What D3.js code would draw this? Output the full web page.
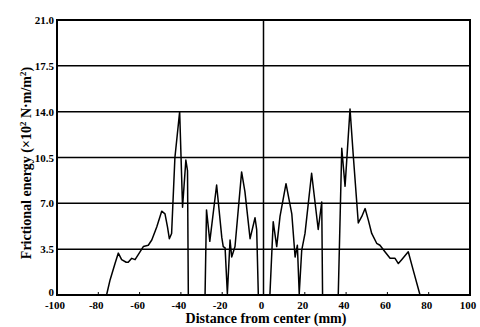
<!DOCTYPE html>
<html>
<head>
<meta charset="utf-8">
<script src="https://cdn.jsdelivr.net/npm/d3@7"></script>
<style>
  body { margin: 0; background: #fff; }
  svg { display: block; }
  text { font-family: "Liberation Serif", "DejaVu Serif", serif; font-weight: bold; fill: #000; }
</style>
</head>
<body>
<div id="chart"></div>
<script>
// distance from center (mm) and frictional energy (x10^2 N·m/m^2)
const distance = [-100, -76, -74.3, -71.9, -70.3, -68.7, -66.5, -65.5, -63.8, -62.2, -59.8, -58.2, -55.8, -54.1, -51.7, -49.3, -47.7, -46.5, -45.6, -44.5, -42.9, -40.6, -39.2, -37.6, -36.8, -36.4,
  -28.3, -27.6, -26, -22.7, -20.2, -19.5, -18.6, -17.5, -16.2, -15.4, -13.8, -10.6, -9, -6.5, -4.1, -3.3, -2.5,
  3.1, 4.7, 6.4, 8, 10.9, 13.7, 15.3, 16.4, 17.3, 18.5, 20.1, 23.3, 26.5, 28.2, 28.6,
  36.2, 37.9, 39.5, 41.9, 43.5, 45.9, 47.6, 49.2, 50.8, 52.4, 54.8, 56.4, 58.8, 61.3, 63.7, 65.3, 66.9, 70.1, 72.5, 75.8, 100];
const energy = [0, 0, 1.15, 2.4, 3.2, 2.7, 2.5, 2.5, 2.8, 2.7, 3.3, 3.7, 3.8, 4.2, 5.2, 6.4, 6.2, 5.2, 4.3, 4.7, 10.5, 14.0, 6.7, 10.3, 9.5, 0,
  0, 6.5, 4.1, 8.4, 4.4, 3.7, 3.6, 0.1, 4.2, 2.9, 3.7, 9.4, 7.9, 4.3, 5.9, 5.0, 0,
  0, 5.6, 3.7, 6.0, 8.5, 6.2, 2.9, 3.8, 0.1, 3.4, 4.7, 9.3, 5.0, 7.1, 0,
  0, 11.2, 8.3, 14.2, 10.6, 5.5, 6.0, 6.6, 5.7, 4.7, 3.95, 3.8, 3.3, 2.8, 2.8, 2.4, 2.7, 3.3, 1.9, 0, 0];

const xTicks = [-100, -80, -60, -40, -20, 0, 20, 40, 60, 80, 100];
const yTicks = [0, 3.5, 7.0, 10.5, 14.0, 17.5, 21.0];
const yTickLabels = ["0", "3.5", "7.0", "10.5", "14.0", "17.5", "21.0"];

const width = 480, height = 327;
const margin = { top: 20, right: 10, bottom: 32, left: 57 };

const svg = d3.select("#chart").append("svg")
    .attr("width", width)
    .attr("height", height);

const x = d3.scaleLinear().domain([-100, 100]).range([margin.left, width - margin.right]);
const y = d3.scaleLinear().domain([0, 21]).range([height - margin.bottom, margin.top]);

// horizontal grid lines
svg.append("g")
  .selectAll("line")
  .data(yTicks.slice(1, -1))
  .join("line")
    .attr("x1", x(-100)).attr("x2", x(100))
    .attr("y1", d => y(d)).attr("y2", d => y(d))
    .attr("stroke", "#000").attr("stroke-width", 1.5);

// center line at 0 mm
svg.append("line")
    .attr("x1", x(0)).attr("x2", x(0))
    .attr("y1", y(21)).attr("y2", y(0))
    .attr("stroke", "#000").attr("stroke-width", 1.5);

// small inward ticks on the bottom axis
svg.append("g")
  .selectAll("line")
  .data(xTicks.slice(1, -1))
  .join("line")
    .attr("x1", d => x(d)).attr("x2", d => x(d))
    .attr("y1", y(0)).attr("y2", y(0) - 3)
    .attr("stroke", "#000").attr("stroke-width", 1);

// frame
svg.append("rect")
    .attr("x", x(-100)).attr("y", y(21))
    .attr("width", x(100) - x(-100)).attr("height", y(0) - y(21))
    .attr("fill", "none").attr("stroke", "#000").attr("stroke-width", 2);

// data line
const pts = distance.map((d, i) => [d, energy[i]]);
const line = d3.line().x(d => x(d[0])).y(d => y(d[1]));
svg.append("path")
    .datum(pts)
    .attr("d", line)
    .attr("fill", "none")
    .attr("stroke", "#000")
    .attr("stroke-width", 1.5)
    .attr("stroke-linejoin", "round");

// tick labels
svg.append("g")
  .selectAll("text")
  .data(xTicks)
  .join("text")
    .attr("x", d => x(d) - 2)
    .attr("y", y(0) + 14)
    .attr("text-anchor", "middle")
    .style("font-size", "11px")
    .text(d => d);

svg.append("g")
  .selectAll("text")
  .data(yTicks)
  .join("text")
    .attr("x", margin.left - 3)
    .attr("y", d => d === 0 ? y(d) + 1 : y(d) + 4)
    .attr("text-anchor", "end")
    .style("font-size", "11px")
    .text((d, i) => yTickLabels[i]);

// axis titles
svg.append("text")
    .attr("x", 266)
    .attr("y", 323)
    .attr("text-anchor", "middle")
    .style("font-size", "14px")
    .text("Distance from center (mm)");

const yTitle = svg.append("text")
    .attr("transform", "translate(31,163) rotate(-90)")
    .attr("text-anchor", "middle")
    .style("font-size", "14px");
yTitle.append("tspan").text("Frictional energy (\u00d710");
yTitle.append("tspan").attr("dy", -5).style("font-size", "9px").text("2");
yTitle.append("tspan").attr("dy", 5).text(" N\u00b7m/m");
yTitle.append("tspan").attr("dy", -5).style("font-size", "9px").text("2");
yTitle.append("tspan").attr("dy", 5).text(")");
</script>
</body>
</html>
